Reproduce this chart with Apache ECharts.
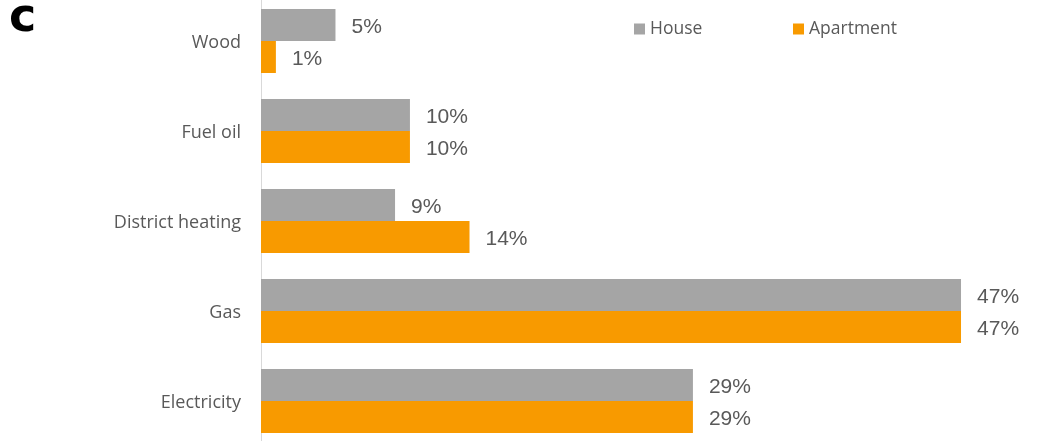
<!DOCTYPE html>
<html>
<head>
<meta charset="utf-8">
<script src="https://cdn.jsdelivr.net/npm/echarts@6/dist/echarts.min.js"></script>
<style>
html,body{margin:0;padding:0;background:#fff;overflow:hidden;}
#chart{position:absolute;left:0;top:-4px;width:1041px;height:450px;}
</style>
</head>
<body>
<div id="chart"></div>
<script>
// Heating energy source shares by dwelling type (%)
const categories = ['Wood', 'Fuel oil', 'District heating', 'Gas', 'Electricity'];
const houseValues = [5, 10, 9, 47, 29];
const apartmentValues = [1, 10, 14, 47, 29];

const grey = '#a5a5a5';
const orange = '#f89a00';
const textColor = '#595959';

const chart = echarts.init(document.getElementById('chart'), null, { renderer: 'canvas' });

const labelCfg = {
  show: true,
  position: 'right',
  distance: 16,
  offset: [0, 2],
  formatter: p => p.value + '%',
  color: textColor,
  fontFamily: 'Liberation Sans, Arial, sans-serif',
  fontSize: 21
};

const legendText = { color: textColor, fontSize: 17.5, fontFamily: 'Open Sans, sans-serif' };

chart.setOption({
  animation: false,
  backgroundColor: '#fff',
  graphic: [{
    type: 'text',
    left: 9,
    top: 0,
    style: {
      text: 'c',
      font: 'bold 46px "DejaVu Sans", sans-serif',
      fill: '#000'
    }
  }],
  legend: [
    {
      data: ['House'],
      left: 629, top: 19,
      itemWidth: 11, itemHeight: 11,
      icon: 'rect',
      textStyle: legendText
    },
    {
      data: ['Apartment'],
      left: 788, top: 19,
      itemWidth: 11, itemHeight: 11,
      icon: 'rect',
      textStyle: legendText
    }
  ],
  grid: { left: 261, right: 35.3, top: 0, bottom: 0, containLabel: false },
  xAxis: {
    type: 'value',
    min: 0,
    max: 50,
    show: false,
    splitLine: { show: false }
  },
  yAxis: {
    type: 'category',
    data: categories,
    inverse: true,
    axisLine: { show: true, lineStyle: { color: '#d9d9d9', width: 1 } },
    axisTick: { show: false },
    axisLabel: {
      margin: 20,
      formatter: '{c|{value}}',
      rich: {
        c: {
          color: textColor,
          fontSize: 18,
          fontFamily: 'Open Sans, sans-serif',
          padding: [4, 0, 0, 0]
        }
      }
    }
  },
  series: [
    {
      name: 'House',
      type: 'bar',
      data: houseValues,
      barWidth: 32,
      barGap: '0%',
      itemStyle: { color: grey },
      label: labelCfg
    },
    {
      name: 'Apartment',
      type: 'bar',
      data: apartmentValues,
      barWidth: 32,
      barGap: '0%',
      itemStyle: { color: orange },
      label: labelCfg
    }
  ]
});
</script>
</body>
</html>
